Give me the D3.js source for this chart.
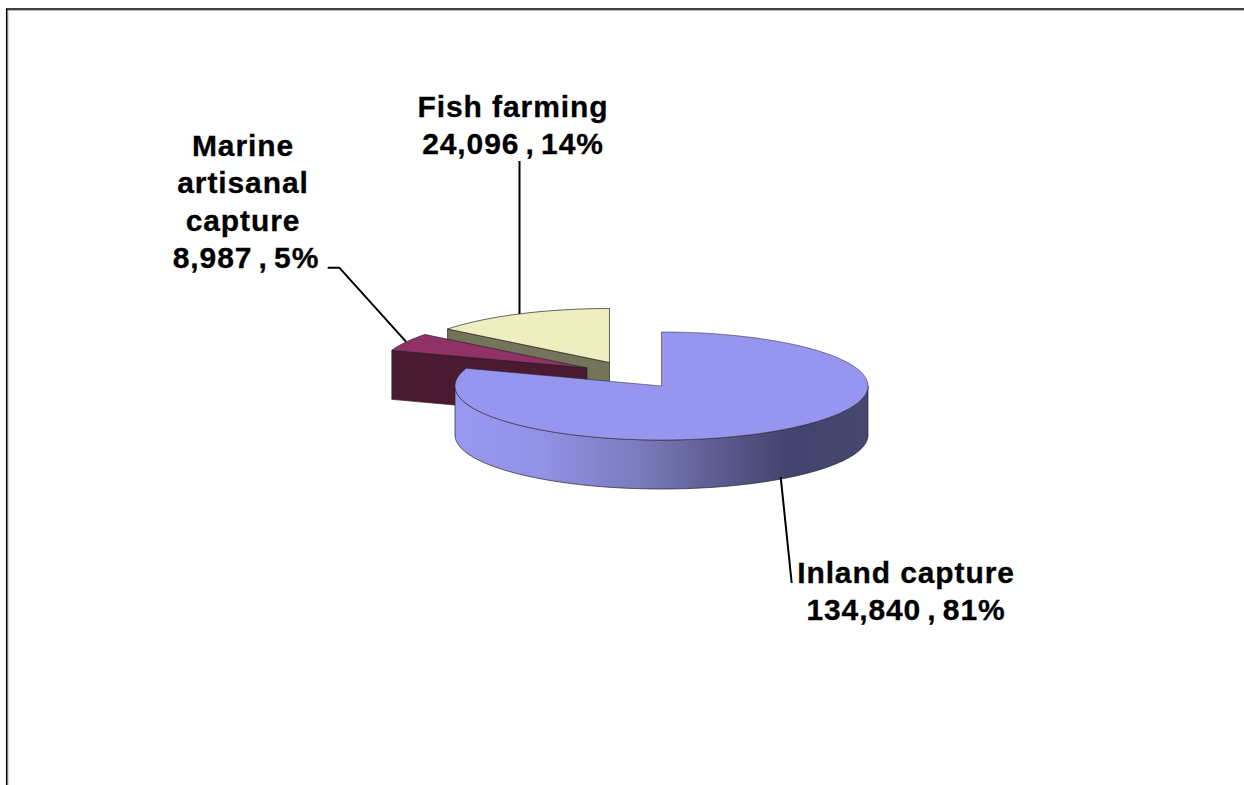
<!DOCTYPE html>
<html>
<head>
<meta charset="utf-8">
<script src="https://cdn.jsdelivr.net/npm/d3@7"></script>
<style>
  html, body { margin: 0; padding: 0; background: #fff; overflow: hidden; }
  text { font-family: "Liberation Sans", Arial, sans-serif; font-weight: 700; font-size: 30px; letter-spacing: 0.9px; fill: #000; stroke: #000; stroke-width: 0.3px; }
</style>
</head>
<body>
<div id="viz"></div>
<script>
// data
const categories = ["Inland capture", "Marine artisanal capture", "Fish farming"];
const tonnes = [134840, 8987, 24096];
const percents = [81, 5, 14];

const width = 1244, height = 785;
const cx = 661.5, cy = 386, rx = 206.5, ry = 54, depth = 49;

// how far each slice is pulled out of the pie
const offsets = [[0, 0], [-74.5, -18], [-52, -23.5]];
const topColors = ["#9696f0", "#913266", "#eeeec0"];
const wallColors = ["#9696f0", "#4a1a30", "#74745a"];

const svg = d3.select("#viz").append("svg")
  .attr("width", width)
  .attr("height", height)
  .attr("viewBox", "0 0 " + width + " " + height);

// frame, cut off by the page at right and bottom
svg.append("path").attr("d", "M8,785V10.5H1244").attr("fill", "none").attr("stroke", "#bbb").attr("stroke-width", 1);
svg.append("path").attr("d", "M6.7,785V9H1244").attr("fill", "none").attr("stroke", "#000").attr("stroke-width", 1.5);

const grad = svg.append("defs").append("linearGradient")
  .attr("id", "wall").attr("gradientUnits", "userSpaceOnUse")
  .attr("x1", cx - rx).attr("x2", cx + rx).attr("y1", 0).attr("y2", 0);
[[0, "#9898f0"], [0.2, "#9292e8"], [0.45, "#7a7abc"], [0.62, "#5f5f94"], [0.8, "#43446e"], [1, "#46476f"]]
  .forEach(s => grad.append("stop").attr("offset", s[0]).attr("stop-color", s[1]));

const pie = d3.pie().sort(null).startAngle(0).endAngle(2 * Math.PI);
const slices = pie(tonnes);

const px = d3.scaleLinear().domain([-1, 1]).range([-rx, rx]);
const py = d3.scaleLinear().domain([-1, 1]).range([ry, -ry]);
const line = d3.line();

function rimPoints(a0, a1, dx, dy, drop) {
  const n = Math.max(2, Math.ceil((a1 - a0) / 0.02));
  return d3.range(n + 1).map(i => {
    const a = a0 + (a1 - a0) * i / n;
    return [cx + dx + px(Math.sin(a)), cy + dy + drop + py(Math.cos(a))];
  });
}

// outer wall, only the part of the rim facing the viewer
function outerWall(a0, a1, dx, dy) {
  const s = Math.max(a0, Math.PI / 2), e = Math.min(a1, 3 * Math.PI / 2);
  if (e <= s) return null;
  return line(rimPoints(s, e, dx, dy, 0).concat(rimPoints(s, e, dx, dy, depth).reverse())) + "Z";
}

// flat cut wall from the apex out to the rim at angle a
function cutWall(a, dx, dy) {
  const p = rimPoints(a, a, dx, dy, 0)[0];
  const ax = cx + dx, ay = cy + dy;
  return line([[ax, ay], p, [p[0], p[1] + depth], [ax, ay + depth]]) + "Z";
}

function topFace(a0, a1, dx, dy) {
  return line([[cx + dx, cy + dy]].concat(rimPoints(a0, a1, dx, dy, 0))) + "Z";
}

// back to front: fish farming, marine, inland
const edge = { stroke: "#222", "stroke-width": 0.7, "stroke-linejoin": "round" };
function draw(d, fill) {
  const p = svg.append("path").attr("d", d).attr("fill", fill);
  Object.keys(edge).forEach(k => p.attr(k, edge[k]));
  return p;
}

[2, 1].forEach(i => {
  const s = slices[i], o = offsets[i];
  draw(cutWall(s.startAngle, o[0], o[1]), wallColors[i]);
  const w = outerWall(s.startAngle, s.endAngle, o[0], o[1]);
  if (w) draw(w, wallColors[i]);
  draw(topFace(s.startAngle, s.endAngle, o[0], o[1]), topColors[i]);
});

const s0 = slices[0];
draw(outerWall(s0.startAngle, s0.endAngle, 0, 0), "url(#wall)");
draw(topFace(s0.startAngle, s0.endAngle, 0, 0), topColors[0]).attr("stroke-opacity", 0.75);

// leader lines
const leaders = [
  [[780.7, 477], [791.7, 583]],
  [[327.7, 267.7], [339.3, 267.7], [406, 341.7]],
  [[519.5, 161], [519.5, 314]]
];
leaders.forEach(l => svg.append("path").attr("d", line(l))
  .attr("fill", "none").attr("stroke", "#000").attr("stroke-width", 2));

// labels, the last row of each holds the numbers
const labelLines = [
  [categories[0], d3.format(",")(tonnes[0]) + " , " + percents[0] + "%"],
  ["Marine", "artisanal", "capture", d3.format(",")(tonnes[1]) + " , " + percents[1] + "%"],
  [categories[2], d3.format(",")(tonnes[2]) + " , " + percents[2] + "%"]
];
const labelAnchor = [[906, 583], [243, 156], [513, 117]];
const numberShift = [0, 3, 0];
labelLines.forEach((rows, i) => {
  svg.append("text")
    .attr("text-anchor", "middle")
    .selectAll("tspan").data(rows).join("tspan")
    .attr("x", (d, j) => labelAnchor[i][0] + (j === rows.length - 1 ? numberShift[i] : 0))
    .attr("y", (d, j) => labelAnchor[i][1] + j * 37.4)
    .attr("word-spacing", (d, j) => j === rows.length - 1 ? -3 : 0)
    .text(d => d);
});
</script>
</body>
</html>
